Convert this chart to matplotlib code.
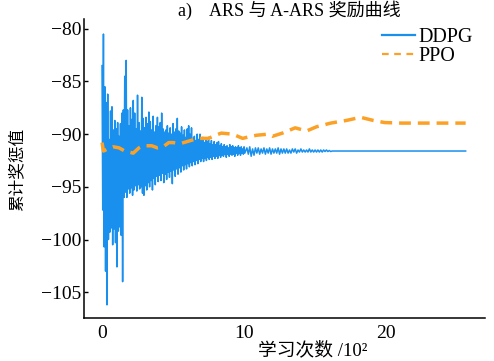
import numpy as np
import matplotlib
matplotlib.use("Agg")
import matplotlib.pyplot as plt
from matplotlib.lines import Line2D

plt.rcParams['font.family'] = ['Liberation Serif', 'Noto Sans CJK SC']

# DDPG: bovenste/onderste pieken, stap 0.1 (x in 10^2 leerstappen)
ddpg_x1 = np.round(np.arange(0.0, 10.01, 0.1), 2)
ddpg_hi1 = [-83.5, -80.5, -85.5, -87.0, -86.2, -90.5, -87.8, -87.4, -89.6, -88.7,
            -89.5, -88.9, -90.2, -89.0, -88.0, -87.7, -84.5, -83.0, -87.7, -89.2,
            -87.5, -88.6, -86.8, -88.0, -89.5, -86.3, -88.9, -89.7, -86.5, -88.5,
            -89.4, -88.4, -89.0, -87.9, -88.8, -89.6, -88.3, -89.8, -89.2, -88.4,
            -89.3, -88.9, -88.0, -89.5, -89.8, -89.6, -89.2, -89.9, -89.4, -90.0,
            -89.0, -89.8, -89.5, -88.5, -89.7, -89.9, -89.3, -90.1, -89.6, -90.3,
            -89.5, -89.2, -90.0, -89.4, -90.4, -90.2, -90.6, -90.0, -90.5, -90.0,
            -90.6, -90.3, -90.8, -90.4, -90.7, -90.3, -90.9, -90.6, -91.0, -90.7,
            -91.0, -90.8, -90.7, -91.1, -90.9, -91.2, -91.0, -91.2, -91.1, -91.3,
            -91.0, -91.2, -91.1, -91.3, -91.2, -91.3, -91.1, -91.3, -91.2, -91.4,
            -91.2]
ddpg_lo1 = [-97.2, -100.7, -103.0, -106.2, -100.0, -99.3, -98.9, -100.5, -99.0, -100.3,
            -102.6, -99.2, -98.8, -99.6, -104.0, -96.0, -95.5, -96.0, -95.2, -95.6,
            -95.1, -95.8, -95.3, -94.9, -95.4, -94.8, -95.2, -95.0, -95.6, -95.8,
            -94.9, -95.3, -94.6, -95.0, -94.4, -95.3, -94.2, -94.8, -94.0, -94.5,
            -93.9, -94.4, -93.7, -94.6, -93.8, -94.3, -93.6, -94.1, -93.5, -94.7,
            -93.4, -94.0, -93.3, -93.8, -93.2, -93.6, -93.0, -93.4, -92.9, -93.3,
            -92.8, -93.1, -92.7, -93.0, -92.6, -92.9, -92.5, -92.8, -92.4, -92.6,
            -92.3, -92.6, -92.3, -92.5, -92.2, -92.4, -92.2, -92.4, -92.1, -92.3,
            -92.1, -92.3, -92.0, -92.2, -92.0, -92.1, -91.9, -92.2, -91.9, -92.1,
            -91.9, -92.0, -91.9, -92.1, -91.8, -92.0, -91.8, -92.0, -91.8, -91.9,
            -91.8]

# DDPG na 10*10^2, stap 0.2
ddpg_x2 = np.round(np.arange(10.2, 16.01, 0.2), 2)
ddpg_hi2 = [-91.3, -91.2, -91.4, -91.3, -91.3, -91.4, -91.3, -91.4, -91.3, -91.4,
            -91.4, -91.3, -91.4, -91.4, -91.4, -91.5, -91.4, -91.4, -91.5, -91.4,
            -91.5, -91.5, -91.4, -91.5, -91.5, -91.5, -91.5, -91.5, -91.5, -91.55]
ddpg_lo2 = [-91.9, -92.1, -92.0, -91.8, -91.9, -91.8, -91.9, -91.8, -91.9, -91.8,
            -91.8, -91.9, -91.8, -91.8, -91.8, -91.8, -91.7, -91.8, -91.7, -91.7,
            -91.7, -91.7, -91.7, -91.7, -91.7, -91.7, -91.7, -91.65, -91.65, -91.65]

ddpg_x3 = [16.2, 20.0, 25.6]
ddpg_y3 = [-91.6, -91.6, -91.6]

# PPO (uitgelezen punten)
ppo_x = [0.0, 0.1, 0.4, 0.8, 1.2, 1.6, 2.2, 2.6, 2.9, 3.5, 3.9, 4.3, 4.7, 5.0,
         5.5, 6.0, 6.5, 6.9, 7.5, 8.0, 8.4, 9.2, 9.9, 10.5, 10.9, 11.7, 12.0,
         12.7, 13.6, 14.4, 15.1, 16.1, 17.2, 18.2, 19.1, 19.9, 21.1, 22.2,
         23.3, 24.5, 25.6]
ppo_y = [-90.8, -91.6, -91.4, -91.2, -91.3, -91.6, -91.8, -91.3, -91.1, -91.1,
         -91.3, -91.2, -90.8, -90.8, -90.9, -90.7, -90.5, -90.4, -90.4, -90.1,
         -89.9, -90.0, -90.4, -90.2, -90.1, -90.0, -90.2, -89.9, -89.4, -89.7,
         -89.3, -88.95, -88.7, -88.4, -88.7, -88.9, -88.95, -88.95, -88.95,
         -88.95, -88.95]


def zigzag(x, hi, lo, dx):
        xs = np.column_stack([x, np.asarray(x) + dx / 2]).ravel()
        ys = np.column_stack([hi, lo]).ravel()
        return xs, ys


xa, ya = zigzag(ddpg_x1, ddpg_hi1, ddpg_lo1, 0.1)
xb, yb = zigzag(ddpg_x2, ddpg_hi2, ddpg_lo2, 0.2)
ddpg_x = np.concatenate([xa, xb, ddpg_x3])
ddpg_y = np.concatenate([ya, yb, ddpg_y3])

c_ddpg = '#1a90ee'
c_ppo = '#fca126'

fig = plt.figure(figsize=(4.94, 3.61), dpi=100)
ax = fig.add_axes([0.170, 0.119, 0.812, 0.829])
ax.plot(ddpg_x, ddpg_y, color=c_ddpg, lw=1.1)
ax.plot(ppo_x, ppo_y, color=c_ppo, lw=2.5, linestyle=(0, (3.4, 2.0)))

ax.set_xlim(-1.27, 26.97)
ax.set_ylim(-107.45, -79.05)
ax.set_xticks([0, 10, 20])
ax.set_yticks([-80, -85, -90, -95, -100, -105])
ax.tick_params(direction='in', length=3, labelsize=14, width=1)
ax.tick_params(axis='x', length=0, pad=5)
ax.tick_params(axis='y', pad=2)
ax.set_yticklabels(["\u221280", "\u221285", "\u221290", "\u221295", "\u2212100", "\u2212105"])
ax.spines['top'].set_visible(False)
ax.spines['right'].set_visible(False)
for s in ['left', 'bottom']:
        ax.spines[s].set_linewidth(1.1)

handles = [Line2D([], [], color=c_ddpg, lw=1.6),
           Line2D([], [], color=c_ppo, lw=1.6, linestyle=(0, (3, 2.5)))]
ax.legend(handles, ["DDPG", "PPO"], loc='upper right', bbox_to_anchor=(1.0, 1.01),
          frameon=False, fontsize=14.5, handlelength=1.6, handletextpad=0.2,
          labelspacing=0.0, borderaxespad=0.2)

fig.text(0.585, 0.972, "a)    ARS 与 A-ARS 奖励曲线", ha='center', va='center', fontsize=13)
fig.text(0.035, 0.53, "累计奖惩值", rotation=90, ha='center', va='center', fontsize=12)
fig.text(0.632, 0.03, "学习次数 /10²", ha='center', va='center', fontsize=13.5)

fig.savefig("out.png", dpi=100)
